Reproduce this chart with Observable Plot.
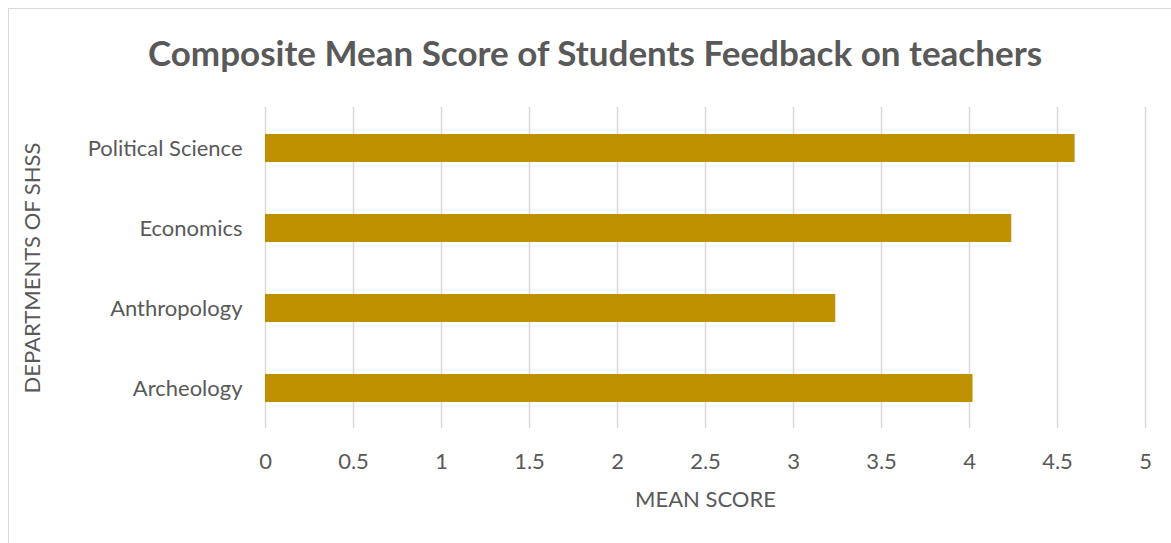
<!DOCTYPE html>
<html>
<head>
<meta charset="utf-8">
<script src="https://cdn.jsdelivr.net/npm/d3@7"></script>
<script src="https://cdn.jsdelivr.net/npm/@observablehq/plot@0.6"></script>
<style>
  html, body { margin: 0; padding: 0; background: #fff; }
  #wrap { position: relative; width: 1171px; height: 543px; overflow: hidden; font-family: Lato, "Open Sans", sans-serif; color: #595959; }
  #frame { position: absolute; left: 8px; top: 8px; width: 1300px; height: 700px; border: 1.5px solid #d9d9d9; box-sizing: border-box; }
  #title { position: absolute; left: 0; top: 0; width: 1190px; height: 80px; line-height: 104px; text-align: center; font-weight: 700; font-size: 35px; color: #595959; }
  #chart { position: absolute; left: 0; top: 80px; }
</style>
</head>
<body>
<div id="wrap">
  <div id="frame"></div>
  <div id="title">Composite Mean Score of Students Feedback on teachers</div>
  <div id="chart"></div>
</div>
<script>
const departments = ["Political Science", "Economics", "Anthropology", "Archeology"];
const meanScores = [4.60, 4.24, 3.24, 4.02];
const xTicks = [0, 0.5, 1, 1.5, 2, 2.5, 3, 3.5, 4, 4.5, 5];
const xLabel = "MEAN SCORE";
const yLabel = "DEPARTMENTS OF SHSS";

const data = departments.map((d, i) => ({department: d, score: meanScores[i]}));

const textColor = "#595959";
const fs = 22;
const chart = Plot.plot({
  width: 1171,
  height: 463,
  marginTop: 27,
  marginBottom: 115,
  marginLeft: 265,
  marginRight: 26,
  style: {fontFamily: "Lato, 'Open Sans', sans-serif", fontSize: fs + "px", color: textColor, background: "transparent"},
  x: {domain: [0, 5]},
  y: {domain: departments, paddingInner: 0.652, paddingOuter: 0.326},
  marks: [
    Plot.gridX(xTicks, {stroke: "#d9d9d9", strokeOpacity: 1, strokeWidth: 1.5}),
    Plot.barX(data, {x: "score", y: "department", fill: "#bf9000"}),
    Plot.axisX(xTicks, {tickSize: 0, tickPadding: 25, tickFormat: d => String(d), label: null, fill: textColor, fontSize: fs}),
    Plot.axisY({tickSize: 0, tickPadding: 23, label: null, fill: textColor, fontSize: fs}),
    Plot.text([xLabel], {text: d => d, frameAnchor: "bottom", dy: 78, fill: textColor, fontSize: fs}),
    Plot.text([yLabel], {text: d => d, frameAnchor: "left", textAnchor: "middle", rotate: -90, dx: -233, fill: textColor, fontSize: fs})
  ]
});
document.getElementById("chart").appendChild(chart);
</script>
</body>
</html>
